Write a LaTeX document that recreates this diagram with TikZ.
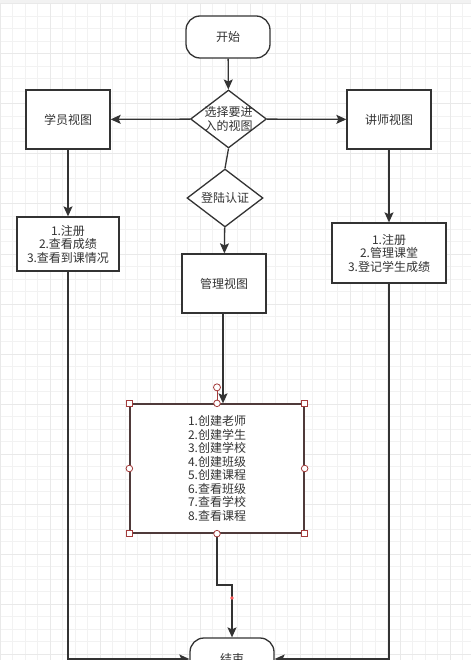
\documentclass[tikz,border=0pt]{standalone}
\usepackage{fontspec}
\newfontfamily\cjk{Noto Sans CJK SC}
\usetikzlibrary{shapes.geometric,arrows.meta}
\definecolor{ink}{HTML}{333333}
\definecolor{gridc}{HTML}{F2F2F2}
\definecolor{gridm}{HTML}{E9E9E9}
\definecolor{sel}{HTML}{A33B3B}
\definecolor{selbox}{HTML}{4F3A3A}
\tikzset{
	base/.style={draw=ink,line width=1.3pt,fill=white,text=ink,align=center,inner sep=0pt,font=\cjk\fontsize{12}{13.5}\selectfont},
	term/.style={base,rounded corners=14pt,minimum width=84pt,minimum height=42pt},
	viewbox/.style={base,minimum width=84pt,minimum height=59pt},
	choice/.style={base,diamond,inner sep=-6pt,minimum width=76pt,minimum height=58pt},
	flow/.style={draw=ink,line width=1.3pt,-{Stealth[length=10pt,width=9pt,inset=2pt]}},
	handle/.style={draw=sel,fill=white,line width=0.8pt}
}
\begin{document}
\begin{tikzpicture}[x=1pt,y=-1pt]
	\useasboundingbox(0,0) rectangle (471,660);
	\fill[white](0,0) rectangle (471,660);
	\foreach \i in {0,...,37} \draw[gridc,line width=1pt]({12.5*\i},0)--+(0,660);
	\foreach \j in {0,...,52} \draw[gridc,line width=1pt](0,{4+12.5*\j})--+(471,0);
	\foreach \i in {0,...,9} \draw[gridm,line width=1pt]({50*\i},0)--+(0,660);
	\foreach \j in {0,...,13} \draw[gridm,line width=1pt](0,{4+50*\j})--+(471,0);
	\fill[gridc](0,0) rectangle (471,3);
	\node[term](start) at (228,37){开始};
	\node[choice](choose) at (228.5,119){选择要进\\入的视图};
	\node[viewbox](stu) at (68,119.5){学员视图};
	\node[viewbox](tea) at (389,119.5){讲师视图};
	\node[choice](login) at (225,198){登陆认证};
	\node[viewbox](admin) at (224,283.5){管理视图};
	\node[base,minimum width=102pt,minimum height=54pt](stumenu) at (68,244){1.注册\\2.查看成绩\\3.查看到课情况};
	\node[base,minimum width=114pt,minimum height=60pt](teamenu) at (389,253){1.注册\\2.管理课堂\\3.登记学生成绩};
	\node[base,draw=selbox,minimum width=174pt,minimum height=129pt](menu) at (217,468.5){1.创建老师\\2.创建学生\\3.创建学校\\4.创建班级\\5.创建课程\\6.查看班级\\7.查看学校\\8.查看课程};
	\node[term](end) at (232,659){结束};
	\draw[flow](start)--(choose);
	\draw[flow](choose)--(stu);
	\draw[flow](choose)--(tea);
	\draw[ink,line width=1.3pt](choose.south)--(login.north);
	\draw[flow](login)--(admin);
	\draw[flow](stu)--(stumenu);
	\draw[flow](tea)--(teamenu);
	\draw[flow]([xshift=-1pt]admin.south)--([xshift=-1pt]admin.south|-menu.north);
	\coordinate(kink) at (232,585);
	\draw[flow](menu.south)|-(kink)--(end);
	\fill[red!65](232,598) circle(1.8);
	\draw[flow](stumenu.south)|-(end.west);
	\draw[flow](teamenu.south)|-(end.east);
	\draw[sel,line width=0.8pt](menu.north)--([yshift=16pt]menu.north);
	\draw[handle]([yshift=16pt]menu.north) circle(3.5);
	\foreach \a in {north,south,east,west} \draw[handle](menu.\a) circle(3.3);
	\foreach \a in {north east,north west,south east,south west} \draw[handle]([shift={(-3,-3)}]menu.\a) rectangle +(6,6);
\end{tikzpicture}
\end{document}
